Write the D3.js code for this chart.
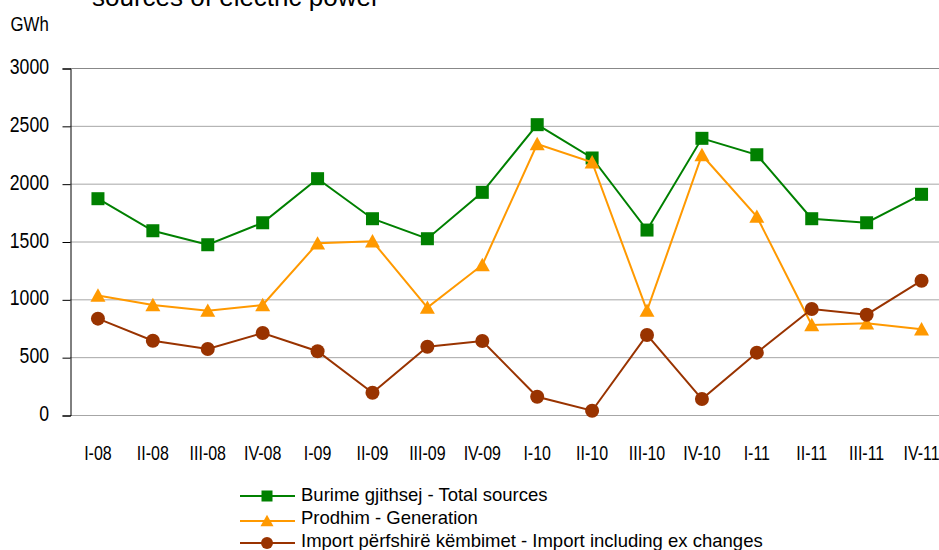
<!DOCTYPE html>
<html>
<head>
<meta charset="utf-8">
<script src="https://cdn.jsdelivr.net/npm/d3@7"></script>
<style>
  body { margin: 0; background: #fff; overflow: hidden; }
  text { font-family: "Liberation Sans", Arial, sans-serif; fill: #000; }
</style>
</head>
<body>
<script>
// Quarterly data, GWh
const quarters = ['I-08', 'II-08', 'III-08', 'IV-08', 'I-09', 'II-09', 'III-09', 'IV-09',
  'I-10', 'II-10', 'III-10', 'IV-10', 'I-11', 'II-11', 'III-11', 'IV-11']
const totalSources = [1870, 1593, 1472, 1662, 2043, 1697, 1524, 1925, 2510, 2222, 1599, 2392, 2250, 1697, 1662, 1908]
const generation = [1033, 951, 902, 951, 1484, 1502, 928, 1297, 2343, 2185, 902, 2248, 1715, 778, 793, 741]
const imports = [833, 642, 570, 709, 551, 193, 590, 640, 158, 37, 692, 138, 539, 916, 867, 1161]
const yTicks = [0, 500, 1000, 1500, 2000, 2500, 3000]

const series = [
  { name: 'Burime gjithsej - Total sources', values: totalSources, color: '#008000', marker: 'square' },
  { name: 'Prodhim - Generation', values: generation, color: '#FF9900', marker: 'triangle' },
  { name: 'Import përfshirë këmbimet  - Import including ex changes', values: imports, color: '#993300', marker: 'circle' }
]

const width = 939
const height = 550
const plotLeft = 70
const plotRight = 949
const plotTop = 68
const plotBottom = 415
const narrow = 0.82 // tick labels use a condensed face

const svg = d3.select('body').append('svg')
  .attr('width', width)
  .attr('height', height)

const xScale = d3.scaleBand().domain(quarters).range([plotLeft + 0.5, plotRight])
const yScale = d3.scaleLinear().domain([0, 3000]).range([plotBottom, plotTop])
const xc = d => xScale(d) + xScale.bandwidth() / 2

// title (partly cut off at top)
svg.append('text')
  .attr('x', 92)
  .attr('y', 6)
  .style('font-size', '26px')
  .text('sources of electric power')

svg.append('text')
  .attr('transform', `translate(10.5,30.7) scale(${narrow},1)`)
  .style('font-size', '20.5px')
  .text('GWh')

// gridlines
svg.append('g').selectAll('line')
  .data(yTicks)
  .enter()
  .append('line')
  .attr('x1', plotLeft)
  .attr('x2', width)
  .attr('y1', d => yScale(d) + 0.5)
  .attr('y2', d => yScale(d) + 0.5)
  .attr('stroke', d => d === 3000 ? '#888' : '#a6a6a6')
  .attr('stroke-width', 1)

// y axis
const yAxis = d3.axisLeft(yScale).tickValues(yTicks).tickFormat(d3.format('d')).tickSize(8)
const gy = svg.append('g')
  .attr('transform', `translate(${plotLeft + 0.5},0.5)`)
  .call(yAxis)
gy.select('.domain').attr('stroke', '#000')
gy.selectAll('.tick line').attr('stroke', '#000')
gy.selectAll('.tick text')
  .attr('x', 0)
  .attr('dy', '0.24em')
  .attr('transform', `translate(-21.5,0) scale(${narrow},1)`)
  .attr('font-family', null)
  .attr('font-size', null)
  .style('font-size', '21.5px')
  .attr('fill', '#000')

// x labels
svg.append('g').selectAll('text')
  .data(quarters)
  .enter()
  .append('text')
  .attr('transform', d => `translate(${xc(d)},460) scale(${narrow},1)`)
  .attr('text-anchor', 'middle')
  .style('font-size', '19.5px')
  .text(d => d)

function drawMarker(g, type, x, y, color, size) {
  if (type === 'square') {
    g.append('rect')
      .attr('x', x - size / 2).attr('y', y - size / 2)
      .attr('width', size).attr('height', size)
      .attr('fill', color)
  } else if (type === 'triangle') {
    const h = size * 0.95
    g.append('path')
      .attr('d', `M${x},${y - h / 2 - 1}L${x + size / 2 + 1},${y + h / 2}L${x - size / 2 - 1},${y + h / 2}Z`)
      .attr('fill', color)
  } else {
    g.append('circle')
      .attr('cx', x).attr('cy', y).attr('r', size / 2 + 0.5)
      .attr('fill', color)
  }
}

const line = d3.line()
  .x((d, i) => xc(quarters[i]))
  .y(d => yScale(d))

series.forEach(s => {
  const g = svg.append('g')
  g.append('path')
    .attr('d', line(s.values))
    .attr('fill', 'none')
    .attr('stroke', s.color)
    .attr('stroke-width', 2)
  s.values.forEach((v, i) => {
    drawMarker(g, s.marker, xc(quarters[i]), yScale(v), s.color, 13)
  })
})

// legend
const legendY = [496, 521, 543]
const legendBase = [501, 524, 547]
series.forEach((s, i) => {
  const g = svg.append('g')
  g.append('line')
    .attr('x1', 240).attr('x2', 295)
    .attr('y1', legendY[i]).attr('y2', legendY[i])
    .attr('stroke', s.color).attr('stroke-width', 2)
  drawMarker(g, s.marker, 267, legendY[i], s.color, 11)
  g.append('text')
    .attr('x', 301)
    .attr('y', legendBase[i])
    .style('font-size', '18.5px')
    .text(s.name)
})
</script>
</body>
</html>
